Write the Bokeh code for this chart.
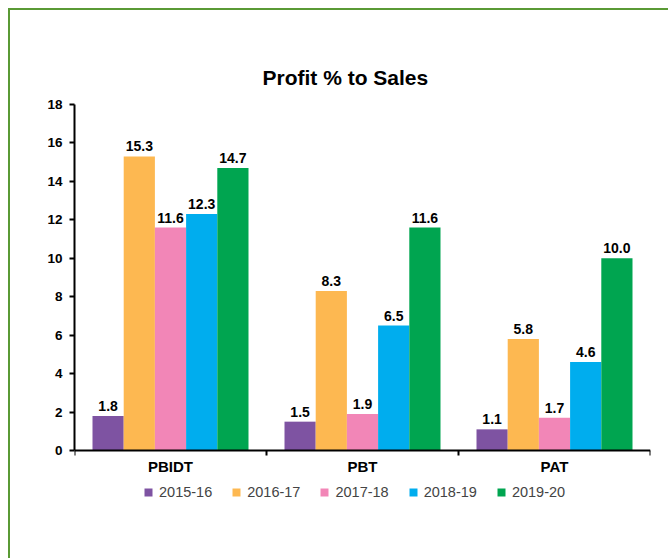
from bokeh.plotting import figure
from bokeh.models import (ColumnDataSource, Range1d, FixedTicker, Legend, LegendItem, LinearAxis)
from bokeh.core.properties import value
from bokeh.embed import file_html
from bokeh.resources import INLINE

categories = ["PBIDT", "PBT", "PAT"]
years = ["2015-16", "2016-17", "2017-18", "2018-19", "2019-20"]
v_2015_16 = [1.8, 1.5, 1.1]
v_2016_17 = [15.3, 8.3, 5.8]
v_2017_18 = [11.6, 1.9, 1.7]
v_2018_19 = [12.3, 6.5, 4.6]
v_2019_20 = [14.7, 11.6, 10.0]
y_ticks = [0, 2, 4, 6, 8, 10, 12, 14, 16, 18]

series = [v_2015_16, v_2016_17, v_2017_18, v_2018_19, v_2019_20]
colors = ["#7E53A2", "#FDB851", "#F286B7", "#00ADEE", "#00A550"]

FONT = "Liberation Sans"
bar_w = 0.1625

# frame extends below zero to hold the legend (plot bottom area)
p = figure(frame_width=576, frame_height=410, output_backend="svg", toolbar_location=None,
           x_range=Range1d(0, 3), y_range=Range1d(-3.33, 18),
           min_border_left=64, min_border_right=18, min_border_top=94,
           min_border_bottom=44, title="Profit % to Sales", x_axis_location=None)
p.styles = {"border-left": "2px solid #5A9A35", "border-top": "2px solid #5A9A35",
            "margin-left": "8px", "margin-top": "8px"}
p.outline_line_color = None
p.xgrid.visible = False
p.ygrid.visible = False

p.title.text_font = FONT
p.title.text_font_size = "21px"
p.title.text_font_style = "bold"
p.title.text_color = "#000000"
p.title.align = "left"
p.title.offset = 188
p.title.standoff = 32

items = []
for i, (name, vals, col) in enumerate(zip(years, series, colors)):
    xs = [k + 0.5 + (i - 2) * bar_w for k in range(len(categories))]
    src = ColumnDataSource(dict(x=xs, top=vals, lab=[f"{v:.1f}" for v in vals]))
    r = p.vbar(x="x", top="top", bottom=0, width=bar_w, source=src, fill_color=col, line_color=None)
    p.text(x="x", y="top", text="lab", source=src, text_align="center",
           text_baseline="bottom", y_offset=-5, text_font=value(FONT),
           text_font_size="14px", text_font_style="bold", text_color="#000000")
    items.append(LegendItem(label=name, renderers=[r]))

# y axis
ya = p.yaxis[0]
ya.ticker = FixedTicker(ticks=y_ticks)
ya.bounds = (y_ticks[0], y_ticks[-1])
ya.axis_line_width = 2
ya.axis_line_color = "#000000"
ya.major_tick_line_width = 2
ya.major_tick_out = 5
ya.major_tick_in = 0
ya.minor_tick_line_color = None
ya.major_label_text_font = FONT
ya.major_label_text_font_size = "13.5px"
ya.major_label_text_font_style = "bold"
ya.major_label_text_color = "#000000"
ya.major_label_standoff = 7

# x axis, fixed at y = 0
xa = LinearAxis(ticker=FixedTicker(ticks=[k + 0.5 for k in range(len(categories))],
                                   minor_ticks=[0, 1, 2, 3]), fixed_location=0)
xa.major_label_overrides = {k + 0.5: c for k, c in enumerate(categories)}
xa.axis_line_width = 2
xa.axis_line_color = "#000000"
xa.major_tick_line_color = None
xa.minor_tick_line_width = 2
xa.minor_tick_line_color = "#000000"
xa.minor_tick_out = 5
xa.minor_tick_in = 0
xa.major_label_text_font = FONT
xa.major_label_text_font_size = "15px"
xa.major_label_text_font_style = "bold"
xa.major_label_text_color = "#000000"
xa.major_label_standoff = 2
p.add_layout(xa, "below")

legend = Legend(items=items, orientation="horizontal", location=(69, 14),
                label_text_font=FONT, label_text_font_size="14.5px",
                glyph_width=10, glyph_height=10, label_standoff=6, spacing=19,
                border_line_color=None, background_fill_alpha=0, padding=2, margin=0)
p.add_layout(legend, "center")

open("out.html", "w").write(file_html(p, INLINE))
